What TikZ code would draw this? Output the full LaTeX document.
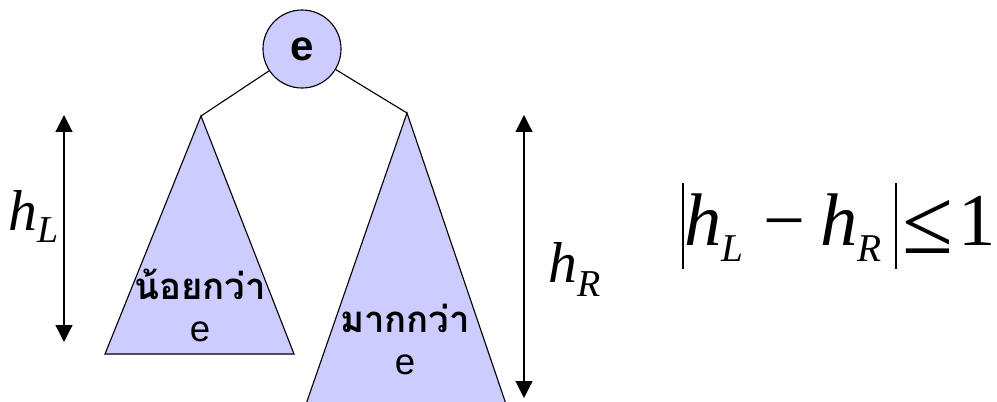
\documentclass[tikz,border=0pt]{standalone}
\usepackage{fontspec}
\setmainfont{Liberation Serif}
\newfontfamily\hfont{Liberation Serif Italic}
\newfontfamily\thaifont[Script=Thai]{Loma}
\newfontfamily\latinsans{Liberation Sans}
\usetikzlibrary{arrows.meta}
\definecolor{lavender}{RGB}{204,204,255}

% h with a lowered italic index: #1 index, #2 index size, #3 drop
\newcommand{\hvar}[3]{{\hfont h}\raisebox{-#3}{\hfont\fontsize{#2}{#2}\selectfont #1}}
\newcommand{\absbar}{\rule[-17pt]{1.4pt}{61pt}}

\tikzset{
  subtree/.style={draw, fill=lavender, line width=0.8pt},
  rootnode/.style={circle, draw, fill=lavender, line width=0.8pt,
    minimum size=1.95cm, font=\latinsans\bfseries\fontsize{30}{30}\selectfont},
  heightarrow/.style={{Triangle[length=12pt,width=12pt]}-{Triangle[length=12pt,width=12pt]},
    line width=0.8pt},
  thaitext/.style={font=\thaifont\bfseries\fontsize{26}{28}\selectfont, inner sep=0pt,
    anchor=base, text depth=0pt},
  keytext/.style={font=\latinsans\fontsize{26}{26}\selectfont, inner sep=0pt, anchor=base,
    text height=1.1ex},
  hlabel/.style={font=\fontsize{41}{44}\selectfont, inner sep=0pt, anchor=base west},
}

\begin{document}
\begin{tikzpicture}[x=0.025cm, y=-0.025cm]
\clip (0,0) rectangle (997,401);

% root
\node[rootnode] (root) at (302,49) {e};

% left subtree
\coordinate (ltop) at (201,116);
\fill[subtree] (ltop) -- (105,354) -- (294,354) -- cycle;
\node[thaitext] (lword) at (200,299) {น้อยกว่า};
\node[keytext] (lkey) at (200,341) {e};

% right subtree
\coordinate (rtop) at (407,113);
\fill[subtree] (rtop) -- (304,410) -- (508,410) -- cycle;
\node[thaitext] (rword) at (405,332) {มากกว่า};
\node[keytext] (rkey) at (405,374) {e};

\draw[line width=0.8pt] (root) -- (ltop);
\draw[line width=0.8pt] (root) -- (rtop);

% heights
\coordinate (la) at (64,115);
\coordinate (lb) at (64,342);
\draw[heightarrow] (la) -- (lb);
\node[hlabel] (hl) at (8,230) {\hvar{L}{27pt}{9pt}};

\coordinate (ra) at (524,115);
\coordinate (rb) at (524,398);
\draw[heightarrow] (ra) -- (rb);
\node[hlabel] (hr) at (548,282) {\hvar{R}{27pt}{10pt}};

% balance condition
\node[inner sep=0pt, anchor=base west, font=\fontsize{53}{56}\selectfont] (cond) at (682,245)
  {\absbar\hvar{L}{28pt}{12pt}\kern14pt−\kern11pt\hvar{R}{28pt}{12pt}\kern9.5pt\absbar\kern4pt%
   \raisebox{-6pt}{\fontsize{66}{66}\selectfont ≤}\kern3pt1};
\end{tikzpicture}
\end{document}
